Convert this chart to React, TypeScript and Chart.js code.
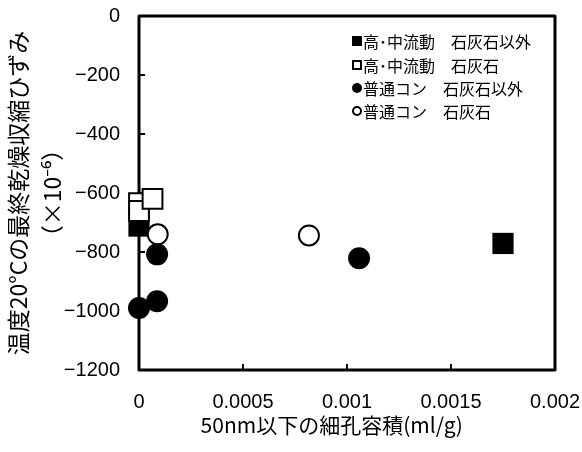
import React, { useEffect, useRef } from 'react';
import { Chart, registerables } from 'chart.js';

Chart.register(...registerables);

// ---- data ----
const seriesNames = [
  '高･中流動　石灰石以外',
  '高･中流動　石灰石',
  '普通コン　石灰石以外',
  '普通コン　石灰石',
];
const hsNonLimeX = [0, 0.00175];
const hsNonLimeY = [-712, -771];
const hsLimeX = [0, 0, 0.000065];
const hsLimeY = [-634, -661, -620];
const normNonLimeX = [0.000087, 0, 0.000087, 0.001058];
const normNonLimeY = [-808, -990, -967, -821];
const normLimeX = [0.00009, 0.000817];
const normLimeY = [-740, -744];
const xTickLabels = ['0', '0.0005', '0.001', '0.0015', '0.002'];
const yTickLabels = ['−1200', '−1000', '−800', '−600', '−400', '−200', '0'];
const xTitle = '50nm以下の細孔容積(ml/g)　  ';
const yTitle = ['温度20°Cの最終乾燥収縮ひずみ', '（×10⁻⁶）'];

const JP = '"Noto Sans CJK JP", "Noto Sans", sans-serif';
const NUM = '"Liberation Sans", Arial, sans-serif';

const toPts = (xs: number[], ys: number[]) => xs.map((x, i) => ({ x, y: ys[i] }));

const markerDefs = [
  { style: 'rect', fill: '#000', radius: 15, border: 0 },
  { style: 'rect', fill: '#fff', radius: 14, border: 2 },
  { style: 'circle', fill: '#000', radius: 11, border: 0 },
  { style: 'circle', fill: '#fff', radius: 10, border: 2 },
];

const framePlugin = {
  id: 'frame',
  beforeDatasetsDraw(chart: any) {
    const { ctx, chartArea } = chart;
    const { left, top, right, bottom } = chartArea;
    ctx.save();
    ctx.strokeStyle = '#000';
    ctx.lineWidth = 3;
    ctx.lineJoin = 'round';
    ctx.strokeRect(left, top, right - left, bottom - top);
    ctx.lineWidth = 2;
    const xs = chart.scales.x;
    const ys = chart.scales.y;
    xs.ticks.forEach((t: any) => {
      const px = xs.getPixelForValue(t.value);
      if (px <= left + 2 || px >= right - 2) return;
      ctx.beginPath();
      ctx.moveTo(px, bottom);
      ctx.lineTo(px, bottom - 6);
      ctx.stroke();
    });
    ys.ticks.forEach((t: any) => {
      const py = ys.getPixelForValue(t.value);
      if (py <= top + 2 || py >= bottom - 2) return;
      ctx.beginPath();
      ctx.moveTo(left, py);
      ctx.lineTo(left + 6, py);
      ctx.stroke();
    });
    ctx.restore();
  },
};

const legendPlugin = {
  id: 'innerLegend',
  afterDraw(chart: any) {
    const { ctx } = chart;
    const x0 = 357;
    const rows = [41, 65, 88, 111];
    ctx.save();
    ctx.font = `16px ${JP}`;
    ctx.textBaseline = 'middle';
    ctx.textAlign = 'left';
    seriesNames.forEach((name, i) => {
      const y = rows[i];
      const m = markerDefs[i];
      ctx.lineWidth = 2;
      ctx.strokeStyle = '#000';
      ctx.fillStyle = m.fill;
      if (m.style === 'rect') {
        if (m.border) {
          ctx.fillRect(x0 - 4, y - 4, 8, 8);
          ctx.strokeRect(x0 - 4, y - 4, 8, 8);
        } else {
          ctx.fillStyle = '#000';
          ctx.fillRect(x0 - 5, y - 5, 10, 10);
        }
      } else {
        ctx.beginPath();
        if (m.border) {
          ctx.arc(x0, y, 4, 0, Math.PI * 2);
          ctx.fill();
          ctx.stroke();
        } else {
          ctx.arc(x0, y, 5, 0, Math.PI * 2);
          ctx.fillStyle = '#000';
          ctx.fill();
        }
      }
      ctx.fillStyle = '#000';
      ctx.fillText(name, 363, y + 1);
    });
    ctx.restore();
  },
};

const zeroPad = (s: any) => {
  s.paddingTop = 0;
  s.paddingBottom = 0;
  s.paddingLeft = 0;
  s.paddingRight = 0;
};

export default function App() {
  const ref = useRef<HTMLCanvasElement>(null);
  useEffect(() => {
    if (!ref.current) return;
    const seriesData = [
      toPts(hsNonLimeX, hsNonLimeY),
      toPts(hsLimeX, hsLimeY),
      toPts(normNonLimeX, normNonLimeY),
      toPts(normLimeX, normLimeY),
    ];
    const chart = new Chart(ref.current, {
      type: 'scatter',
      data: {
        datasets: seriesData.map((d, i) => ({
          label: seriesNames[i],
          data: d,
          pointStyle: markerDefs[i].style as any,
          pointRadius: markerDefs[i].radius,
          pointHoverRadius: markerDefs[i].radius,
          backgroundColor: markerDefs[i].fill,
          borderColor: '#000',
          borderWidth: markerDefs[i].border,
          order: 4 - i,
          clip: false as any,
        })),
      },
      options: {
        animation: false,
        responsive: false,
        devicePixelRatio: 1,
        layout: { padding: { left: 0, top: 15, right: 27, bottom: 0 } },
        plugins: { legend: { display: false }, tooltip: { enabled: false } },
        scales: {
          x: {
            type: 'linear',
            min: 0,
            max: 0.002,
            ticks: {
              stepSize: 0.0005,
              padding: 20,
              color: '#000',
              font: { family: NUM, size: 20 },
              callback: (_v: any, i: number) => xTickLabels[i],
              maxRotation: 0,
              autoSkip: false,
            },
            grid: { display: false, drawTicks: false },
            border: { display: false },
            title: {
              display: true,
              text: xTitle,
              color: '#000',
              font: { family: JP, size: 21 },
              padding: { top: 0, bottom: 14 },
            },
            afterFit: (s: any) => { s.height = 82; zeroPad(s); },
          },
          y: {
            type: 'linear',
            min: -1200,
            max: 0,
            ticks: {
              stepSize: 200,
              padding: 19,
              color: '#000',
              font: { family: NUM, size: 20 },
              callback: (_v: any, i: number) => yTickLabels[i],
              autoSkip: false,
            },
            grid: { display: false, drawTicks: false },
            border: { display: false },
            title: {
              display: true,
              text: yTitle,
              color: '#000',
              font: { family: JP, size: 23, lineHeight: 1.48 },
              padding: { top: 1, bottom: 0 },
            },
            afterFit: (s: any) => { s.width = 139; zeroPad(s); },
          },
        },
      },
      plugins: [framePlugin, legendPlugin],
    });
    return () => chart.destroy();
  }, []);
  return (
    <div style={{ position: 'absolute', left: 0, top: 0, width: 582, height: 452, background: '#fff' }}>
      <canvas ref={ref} width={582} height={452} style={{ display: 'block' }} />
    </div>
  );
}
